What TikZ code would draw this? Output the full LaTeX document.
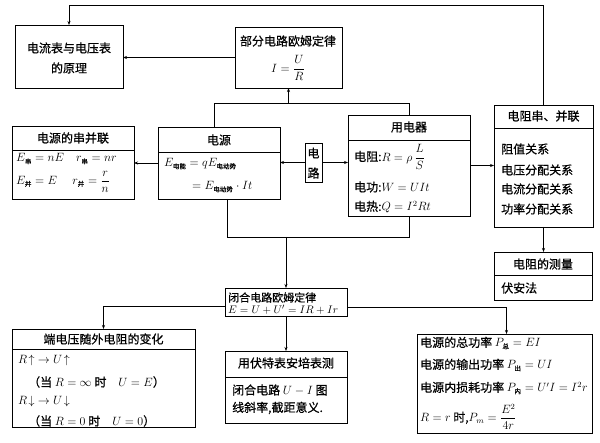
\documentclass[tikz,border=0pt]{standalone}
\usepackage{amsmath}
\usepackage{fontspec}
\setmainfont[FakeBold=0.6]{Noto Sans CJK SC}
\usetikzlibrary{arrows.meta}
\newcommand{\zs}[1]{\mbox{\fontsize{6.5}{7}\selectfont #1}}
\begin{document}
\begin{tikzpicture}[x=1pt,y=-1pt,
  every node/.style={font=\fontsize{12}{14}\selectfont},
  box/.style={draw,line width=0.8pt,inner sep=0pt,outer sep=0pt},
  sepl/.style={line width=0.7pt},
  conn/.style={line width=0.6pt},
  arr/.style={conn,-{Stealth[length=4pt,width=3pt]}},
  lt/.style={anchor=west,inner sep=0pt},
  ct/.style={anchor=center,inner sep=0pt}]
\fill[white] (0,0) rectangle (600,443);
\useasboundingbox (0,0) rectangle (600,443);
% boxes
\node[box,minimum width=108pt,minimum height=63pt] (A) at (69,56.5) {};
\node[box,minimum width=107pt,minimum height=61pt] (B) at (288.5,57.5) {};
\node[box,minimum width=122pt,minimum height=73pt] (C) at (73,162.5) {};
\node[box,minimum width=122pt,minimum height=72pt] (D) at (219,163) {};
\node[box,minimum width=17pt,minimum height=39pt] (E) at (313.5,162.5) {};
\node[box,minimum width=122pt,minimum height=101pt] (F) at (409,165.5) {};
\node[box,minimum width=99pt,minimum height=122pt] (G) at (543.5,166) {};
\node[box,minimum width=98pt,minimum height=48pt] (H) at (543,276) {};
\node[box,minimum width=122pt,minimum height=28pt] (I) at (286,302) {};
\node[box,minimum width=183pt,minimum height=98pt] (J) at (103.5,378) {};
\node[box,minimum width=122pt,minimum height=72pt] (K) at (286,387) {};
\node[box,minimum width=175pt,minimum height=99pt] (L) at (504.5,383.5) {};
% separators
\draw[sepl] (C.west |- 0,150) -- (C.east |- 0,150);
\draw[sepl] (D.west |- 0,152) -- (D.east |- 0,152);
\draw[sepl] (F.west |- 0,140) -- (F.east |- 0,140);
\draw[sepl] (G.west |- 0,128) -- (G.east |- 0,128);
\draw[sepl] (H.west |- 0,275) -- (H.east |- 0,275);
\draw[sepl] (J.west |- 0,349) -- (J.east |- 0,349);
\draw[sepl] (K.west |- 0,377) -- (K.east |- 0,377);
% texts
\node[ct] (tA1) at (69,48) {电流表与电压表};
\node[ct] (tA2) at (69,68) {的原理};
\node[ct] (tB1) at (288,41) {部分电路欧姆定律};
\node[ct] (tB2) at (288,68) {$\displaystyle I=\frac{U}{R}$};
\node[ct] (tC0) at (73,138) {电源的串并联};
\node[lt] (tC1) at (16,159) {$E_{\zs{串}} = nE\quad r_{\zs{串}} = nr$};
\node[lt] (tC2) at (16,182) {$E_{\zs{并}} = E\quad\; r_{\zs{并}} = \dfrac{r}{n}$};
\node[ct] (tD0) at (219,140) {电源};
\node[lt] (tD1) at (164,164) {$E_{\zs{电能}} = qE_{\zs{电动势}}$};
\node[lt] (tD2) at (192,187) {$= E_{\zs{电动势}}\cdot It$};
\node[ct] (tE1) at (313.5,153) {电};
\node[ct] (tE2) at (313.5,173) {路};
\node[ct] (tF0) at (409,127) {用电器};
\node[lt] (tF1) at (354,157) {电阻:$R=\rho\,\dfrac{L}{S}$};
\node[lt] (tF2) at (354,187) {电功:$W = UIt$};
\node[lt] (tF3) at (354,207) {电热:$Q = I^2Rt$};
\node[ct] (tG0) at (543.5,116) {电阻串、并联};
\node[lt] (tG1) at (501,149) {阻值关系};
\node[lt] (tG2) at (501,170) {电压分配关系};
\node[lt] (tG3) at (501,189) {电流分配关系};
\node[lt] (tG4) at (501,209) {功率分配关系};
\node[ct] (tH0) at (543,264) {电阻的测量};
\node[lt] (tH1) at (501,288) {伏安法};
\node[lt,font=\fontsize{11}{12}\selectfont] (tI1) at (228,297.5) {闭合电路欧姆定律};
\node[lt,font=\fontsize{11}{12}\selectfont] (tI2) at (228,310) {$E = U + U' = IR + Ir$};
\node[ct] (tJ0) at (103.5,339) {端电压随外电阻的变化};
\node[lt] (tJ1) at (18,361) {$R\!\uparrow\;\rightarrow U\!\uparrow$};
\node[lt] (tJ2) at (28,382) {（当 $R=\infty$ 时\quad $U=E$）};
\node[lt] (tJ3) at (18,402) {$R\!\downarrow\;\rightarrow U\!\downarrow$};
\node[lt] (tJ4) at (28,421) {（当 $R=0$ 时\quad $U=0$）};
\node[ct] (tK0) at (286,363) {用伏特表安培表测};
\node[lt] (tK1) at (232,390) {闭合电路 $U-I$ 图};
\node[lt] (tK2) at (232,408) {线斜率,截距意义.};
\node[lt] (tL1) at (420,343) {电源的总功率 $P_{\zs{总}} = EI$};
\node[lt] (tL2) at (420,365) {电源的输出功率 $P_{\zs{出}} = UI$};
\node[lt] (tL3) at (420,388) {电源内损耗功率 $P_{\zs{内}} = U'I = I^2r$};
\node[lt] (tL4) at (420,417) {$R = r$ 时,$P_{m} = \dfrac{E^2}{4r}$};
% connectors
\coordinate (topy) at (0,5);
\coordinate (bus1) at (0,103);
\coordinate (bus2) at (0,237);
\draw[arr] (G.north) -- (G.north |- topy) -- (A.north |- topy) -- (A.north);
\draw[arr] (B.west) -- (B.west -| A.east);
\draw[conn] ([xshift=-5pt]D.north) -- ([xshift=-5pt]D.north |- bus1) -- (F.north |- bus1) -- (F.north);
\draw[arr] (B.south |- bus1) -- (B.south);
\draw[conn] ([xshift=8pt]D.south) -- ([xshift=8pt]D.south |- bus2) -- (F.south |- bus2) -- (F.south);
\draw[arr] (I.north |- bus2) -- (I.north);
\draw[arr] (D.west) -- (D.west -| C.east);
\draw[arr] (E.west) -- (E.west -| D.east);
\draw[arr] (E.east) -- (E.east -| F.west);
\draw[arr] (F.east) -- (F.east -| G.west);
\draw[arr] (G.south) -- (G.south |- H.north);
\draw[arr] ([yshift=-4pt]I.west) -| (J.north);
\draw[arr] (I.south) -- (I.south |- K.north);
\draw[arr] ([yshift=-5pt]I.east) -| ([xshift=2pt]L.north);
\end{tikzpicture}
\end{document}
